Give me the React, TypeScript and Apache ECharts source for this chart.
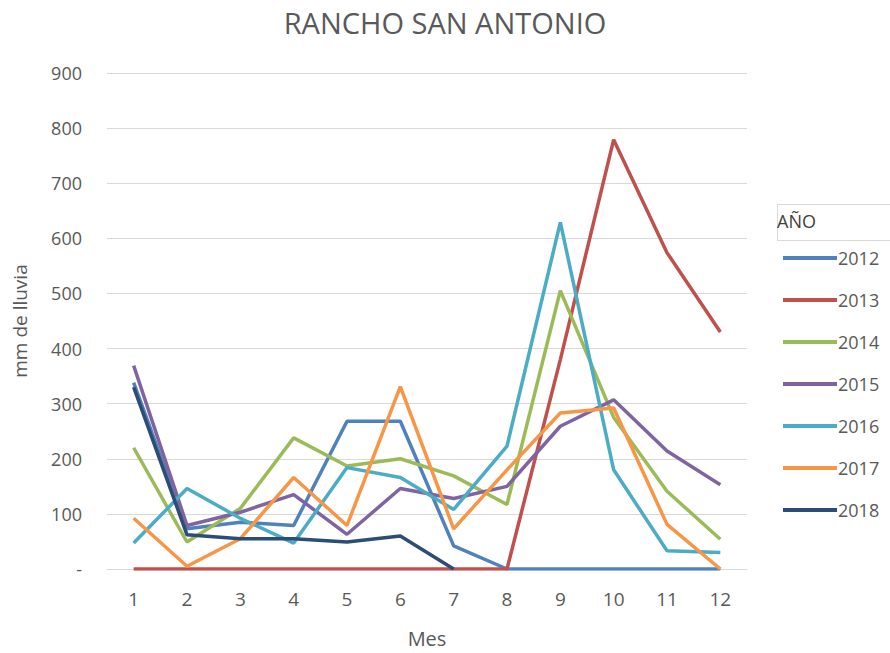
import React, { useEffect, useRef } from "react";
import * as echarts from "echarts";

const months = ["1", "2", "3", "4", "5", "6", "7", "8", "9", "10", "11", "12"];
const years = ["2012", "2013", "2014", "2015", "2016", "2017", "2018"];
const v2012 = [338, 73, 85, 79, 268, 268, 42, 0, 0, 0, 0, 0];
const v2013 = [0, 0, 0, 0, 0, 0, 0, 0, 380, 779, 574, 430];
const v2014 = [220, 49, 110, 238, 187, 200, 169, 117, 505, 275, 141, 54];
const v2015 = [369, 79, 103, 135, 63, 146, 128, 150, 259, 307, 214, 153];
const v2016 = [47, 146, 92, 47, 184, 166, 108, 223, 629, 180, 33, 30];
const v2017 = [92, 5, 55, 166, 79, 331, 73, 180, 283, 292, 81, 0];
const v2018 = [330, 62, 55, 55, 49, 60, 0, null, null, null, null, null];
const seriesValues = [v2012, v2013, v2014, v2015, v2016, v2017, v2018];
const colors = ["#4F81BD", "#C0504D", "#9BBB59", "#8064A2", "#4BACC6", "#F79646", "#2C4D75"];
const yTicks = { min: 0, max: 900, interval: 100 };

const FONT = "'Open Sans', sans-serif";

export default function App() {
  const ref = useRef<HTMLDivElement>(null);
  useEffect(() => {
    if (!ref.current) return;
    const chart = echarts.init(ref.current, undefined, { renderer: "svg" });
    chart.setOption({
      animation: false,
      backgroundColor: "#ffffff",
      textStyle: { fontFamily: FONT },
      title: {
        text: "RANCHO SAN ANTONIO",
        left: "center",
        top: 3,
        textStyle: { fontFamily: FONT, fontSize: 29, fontWeight: "normal", color: "#595959" },
      },
      grid: { left: 107, right: 143, top: 73, bottom: 79, containLabel: false },
      legend: {
        orient: "vertical",
        left: 783,
        top: 249,
        padding: 0,
        itemWidth: 54,
        itemHeight: 4,
        itemGap: 24,
        icon: "rect",
        data: years,
        textStyle: { fontFamily: FONT, fontSize: 18, color: "#595959", lineHeight: 18, padding: [0, 0, 0, -4] },
      },
      graphic: [
        {
          type: "rect",
          left: 775,
          top: 202,
          shape: { width: 120, height: 36 },
          style: { fill: "none", stroke: "#d9d9d9", lineWidth: 1 },
        },
        {
          type: "text",
          left: 777,
          top: 212,
          style: { text: "AÑO", font: `18px ${FONT}`, fill: "#404040" },
        },
      ],
      xAxis: {
        type: "category",
        data: months,
        boundaryGap: true,
        name: "Mes",
        nameLocation: "middle",
        nameGap: 59,
        nameTextStyle: { fontFamily: FONT, fontSize: 20, color: "#595959" },
        axisLine: { lineStyle: { color: "#d9d9d9", width: 1 } },
        axisTick: { show: false },
        axisLabel: { fontFamily: FONT, fontSize: 19, color: "#595959", margin: 20 },
      },
      yAxis: {
        type: "value",
        min: yTicks.min,
        max: yTicks.max,
        interval: yTicks.interval,
        name: "mm de lluvia",
        nameLocation: "middle",
        nameGap: 78,
        nameTextStyle: { fontFamily: FONT, fontSize: 19, color: "#595959" },
        axisLine: { show: false },
        axisTick: { show: false },
        splitLine: { lineStyle: { color: "#d9d9d9", width: 1 } },
        axisLabel: {
          fontFamily: FONT,
          fontSize: 18,
          color: "#595959",
          margin: 25,
          formatter: (v: number) => (v === 0 ? "-" : String(v)),
        },
      },
      series: years.map((y, i) => ({
        name: y,
        type: "line",
        data: seriesValues[i],
        symbol: "none",
        connectNulls: false,
        lineStyle: { color: colors[i], width: 3.5 },
        itemStyle: { color: colors[i] },
        z: 2 + i,
      })),
    });
    return () => chart.dispose();
  }, []);
  return (
    <div
      ref={ref}
      style={{ position: "fixed", left: 0, top: 0, width: 890, height: 653 }}
    />
  );
}
